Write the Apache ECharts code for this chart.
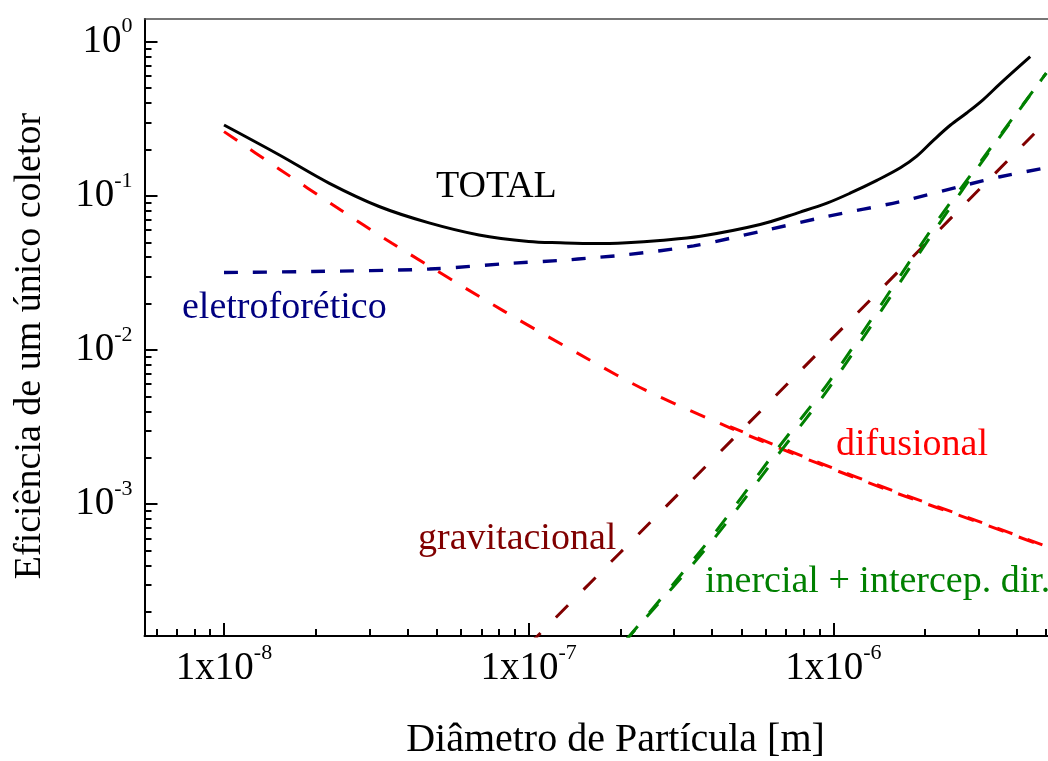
<!DOCTYPE html>
<html>
<head>
<meta charset="utf-8">
<title>Eficiência de um único coletor</title>
<script src="https://cdn.jsdelivr.net/npm/echarts@6/dist/echarts.min.js"></script>
<style>
    html, body { margin: 0; padding: 0; background: #fff; }
    #chart { width: 1048px; height: 761px; }
</style>
</head>
<body>
<div id="chart"></div>
<script>
// valores: diametro [m] -> eficiencia
var totalX = [1.0e-8, 1.52e-8, 2.21e-8, 3.23e-8, 4.71e-8, 6.87e-8, 1.0e-7, 1.27e-7, 1.66e-7, 2.10e-7, 2.70e-7,
    3.66e-7, 5.75e-7, 7.78e-7, 9.53e-7, 1.135e-6, 1.39e-6, 1.66e-6, 1.88e-6, 2.13e-6, 2.42e-6, 2.74e-6, 3.10e-6, 3.53e-6, 4.43e-6];
var totalY = [0.288, 0.184, 0.121, 0.0853, 0.0668, 0.0558, 0.0506, 0.0496, 0.0490, 0.0497, 0.0514,
    0.0547, 0.0652, 0.0785, 0.0897, 0.104, 0.126, 0.152, 0.181, 0.229, 0.287, 0.345, 0.420, 0.535, 0.80];

var eletroX = [1.0e-8, 1.95e-8, 4.72e-8, 8.87e-8, 1.27e-7, 1.66e-7, 2.10e-7, 3.48e-7, 5.75e-7, 9.53e-7, 1.66e-6, 2.74e-6, 3.53e-6, 5.0e-6];
var eletroY = [0.0318, 0.0323, 0.0335, 0.0366, 0.0381, 0.0398, 0.0415, 0.0474, 0.0587, 0.0735, 0.0918, 0.118, 0.133, 0.152];

var difusX = [1.0e-8, 1.52e-8, 2.32e-8, 3.56e-8, 8.32e-8, 1.58e-7, 2.40e-7, 4.58e-7, 8.83e-7, 1.61e-6, 3.03e-6, 5.0e-6];
var difusY = [0.261, 0.149, 0.0853, 0.0493, 0.0178, 0.00865, 0.00553, 0.00313, 0.00185, 0.00118, 7.57e-4, 5.26e-4];
// segundo traco vermelho sobreposto (a partir de ~4.5e-7)
var difus2X = [4.58e-7, 8.83e-7, 1.61e-6, 3.03e-6, 5.0e-6];
var difus2Y = [0.00318, 0.00188, 0.00120, 7.68e-4, 5.33e-4];

var gravX = [1.0e-7, 2.0e-7, 7.2e-7, 5.0e-6];
var gravY = [1.22e-4, 4.86e-4, 6.25e-3, 0.304];

var inercX = [2.10e-7, 3.85e-7, 6.53e-7, 9.79e-7, 2.13e-6, 3.19e-6, 4.83e-6, 5.0e-6];
var inercY = [1.33e-4, 5.61e-4, 2.26e-3, 6.41e-3, 0.0632, 0.189, 0.570, 0.625];
var intercY = [1.33e-4, 5.25e-4, 2.05e-3, 5.85e-3, 0.0580, 0.184, 0.570, 0.625];

// expoentes dos rotulos dos eixos
var xExpoentes = [-8, -7, -6];
var yExpoentes = [0, -1, -2, -3];

// faixa visivel (log10)
var X_MIN = -8.261, X_MAX = -5.1738;
var Y_MIN = -3.8554, Y_MAX = 0.1473;

var FONT = '"Liberation Serif", "Times New Roman", serif';

function menores(lo, hi) {
    var out = [];
    for (var d = Math.floor(lo); d <= Math.ceil(hi); d++) {
        for (var k = 2; k <= 9; k++) {
            var v = d + Math.log10(k);
            if (v > lo && v < hi) out.push(v);
        }
    }
    return out;
}

function pares(xs, ys) {
    return xs.map(function (x, i) { return [x, ys[i]]; });
}

function tracejado(nome, xs, ys, cor, dash, offset, largura) {
    return {
        name: nome, type: 'line', data: pares(xs, ys), symbol: 'none', smooth: 0.3,
        lineStyle: {color: cor, width: largura || 3, type: dash, dashOffset: offset || 0}
    };
}

var rich = {
    b: {fontFamily: FONT, fontSize: 39, lineHeight: 39, color: '#000'},
    s: {fontFamily: FONT, fontSize: 22, lineHeight: 22, padding: [0, 0, 30, 0], color: '#000'}
};

var preto = {color: '#000', width: 2};

var chart = echarts.init(document.getElementById('chart'));
var option = {
    animation: false,
    backgroundColor: '#fff',
    grid: {left: 144.5, right: -37, top: 19, bottom: 125, containLabel: false, outerBoundsMode: 'none'},
    xAxis: [
        {type: 'log', position: 'bottom', show: false, min: Math.pow(10, X_MIN), max: Math.pow(10, X_MAX)},
        {
            type: 'value', position: 'bottom', min: X_MIN, max: X_MAX,
            axisLine: {show: true, onZero: false, lineStyle: preto},
            axisTick: {show: true, inside: true, length: 13, lineStyle: preto, customValues: xExpoentes},
            axisLabel: {
                show: true, margin: 13, customValues: xExpoentes, rich: rich,
                formatter: function (v) { return '{b|1x10}{s|' + Math.round(v) + '}'; }
            },
            splitLine: {show: false}
        },
        {
            type: 'value', position: 'bottom', min: X_MIN, max: X_MAX,
            axisLine: {show: false, onZero: false},
            axisTick: {show: true, inside: true, length: 7, lineStyle: preto, customValues: menores(X_MIN, X_MAX)},
            axisLabel: {show: false}, splitLine: {show: false}
        },
        {
            type: 'value', position: 'top', min: X_MIN, max: X_MAX,
            axisLine: {show: true, onZero: false, lineStyle: {color: '#4a4a4a', width: 1.5}},
            axisTick: {show: false}, axisLabel: {show: false}, splitLine: {show: false}
        }
    ],
    yAxis: [
        {type: 'log', position: 'left', show: false, min: Math.pow(10, Y_MIN), max: Math.pow(10, Y_MAX)},
        {
            type: 'value', position: 'left', min: Y_MIN, max: Y_MAX,
            axisLine: {show: true, onZero: false, lineStyle: preto},
            axisTick: {show: true, inside: true, length: 13, lineStyle: preto, customValues: yExpoentes},
            axisLabel: {
                show: true, margin: 12, customValues: yExpoentes, rich: rich,
                formatter: function (v) { return '{b|10}{s|' + Math.round(v) + '}'; }
            },
            splitLine: {show: false}
        },
        {
            type: 'value', position: 'left', min: Y_MIN, max: Y_MAX,
            axisLine: {show: false, onZero: false},
            axisTick: {show: true, inside: true, length: 7, lineStyle: preto, customValues: menores(Y_MIN, Y_MAX)},
            axisLabel: {show: false}, splitLine: {show: false}
        }
    ],
    series: [
        tracejado('eletroforético', eletroX, eletroY, '#000080', [14, 15], 0, 3.4),
        tracejado('difusional', difusX, difusY, '#ff0000', [16, 16]),
        tracejado('difusional (2)', difus2X, difus2Y, '#ff0000', [16, 16], 2),
        tracejado('gravitacional', gravX, gravY, '#800000', [17, 22]),
        tracejado('inercial', inercX, inercY, '#008000', [17, 18]),
        tracejado('intercep. dir.', inercX, intercY, '#008000', [17, 18], 5),
        {
            name: 'TOTAL', type: 'line', data: pares(totalX, totalY), symbol: 'none', smooth: 0.35,
            lineStyle: {color: '#000', width: 3}, z: 5
        }
    ],
    graphic: [
        {type: 'text', x: 436, y: 187, style: {text: 'TOTAL', fill: '#000', font: '38px ' + FONT, textAlign: 'left', textVerticalAlign: 'middle'}},
        {type: 'text', x: 182, y: 308, style: {text: 'eletroforético', fill: '#000080', font: '38px ' + FONT, textAlign: 'left', textVerticalAlign: 'middle'}},
        {type: 'text', x: 836, y: 445, style: {text: 'difusional', fill: '#ff0000', font: '38px ' + FONT, textAlign: 'left', textVerticalAlign: 'middle'}},
        {type: 'text', x: 418, y: 539, style: {text: 'gravitacional', fill: '#800000', font: '38px ' + FONT, textAlign: 'left', textVerticalAlign: 'middle'}},
        {type: 'text', x: 705, y: 582, style: {text: 'inercial + intercep. dir.', fill: '#008000', font: '38px ' + FONT, textAlign: 'left', textVerticalAlign: 'middle'}},
        {type: 'text', x: 615.5, y: 740.5, style: {text: 'Diâmetro de Partícula [m]', fill: '#000', font: '40px ' + FONT, textAlign: 'center', textVerticalAlign: 'middle'}},
        {type: 'text', x: 30, y: 346, rotation: Math.PI / 2, style: {text: 'Eficiência de um único coletor', fill: '#000', font: '38px ' + FONT, textAlign: 'center', textVerticalAlign: 'middle'}}
    ]
};
chart.setOption(option);
</script>
</body>
</html>
